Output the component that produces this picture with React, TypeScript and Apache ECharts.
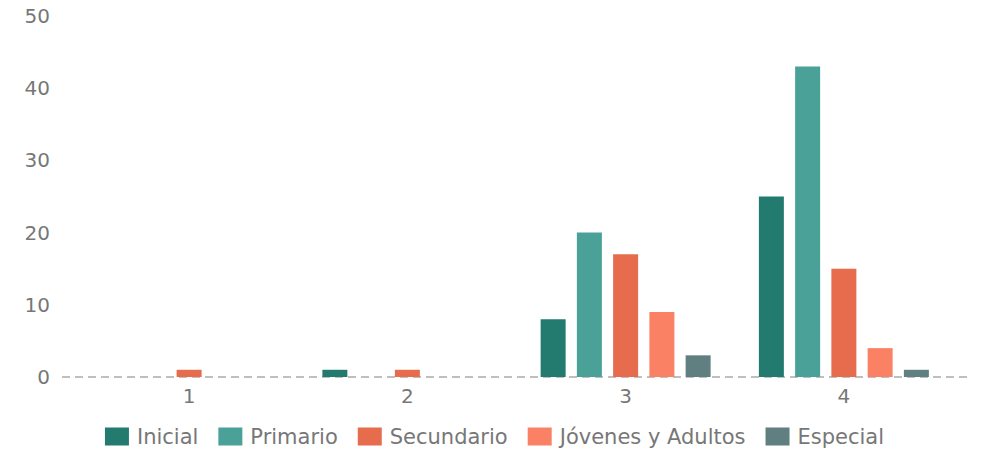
import React, { useEffect, useRef } from "react";
import * as echarts from "echarts";

const categories = ["1", "2", "3", "4"];
const seriesNames = ["Inicial", "Primario", "Secundario", "Jóvenes y Adultos", "Especial"];
const inicial = [0, 1, 8, 25];
const primario = [0, 0, 20, 43];
const secundario = [1, 1, 17, 15];
const jovenes = [0, 0, 9, 4];
const especial = [0, 0, 3, 1];
const colors = ["#237B70", "#4AA197", "#E76C4D", "#FA8163", "#5F7F81"];

export default function App() {
  const ref = useRef<HTMLDivElement>(null);
  useEffect(() => {
    if (!ref.current) return;
    const chart = echarts.init(ref.current, undefined, { renderer: "svg" });
    const data = [inicial, primario, secundario, jovenes, especial];
    chart.setOption({
      animation: false,
      textStyle: { fontFamily: "'DejaVu Sans', sans-serif" },
      color: colors,
      grid: { left: 80, right: 36, top: 16, bottom: 74, containLabel: false },
      legend: {
        top: 426,
        left: "center",
        padding: 0,
        itemWidth: 24,
        itemHeight: 18,
        itemGap: 20,
        icon: "rect",
        textStyle: { fontSize: 21, color: "#777", fontFamily: "'DejaVu Sans', sans-serif", padding: [0, 0, 0, 3] },
        data: seriesNames,
      },
      xAxis: {
        type: "category",
        data: categories,
        axisLine: { show: false },
        axisTick: { show: false },
        axisLabel: { fontSize: 20, color: "#777", margin: 9 },
      },
      yAxis: {
        type: "value",
        min: 0,
        max: 50,
        interval: 10,
        splitLine: { show: false },
        axisLine: { show: false },
        axisTick: { show: false },
        axisLabel: { fontSize: 20, color: "#777", margin: 30 },
      },
      series: seriesNames.map((name, i) => ({
        name,
        type: "bar",
        data: data[i],
        barWidth: 25,
        barGap: "45%",
        itemStyle: { color: colors[i] },
      })),
    });
    const y0 = chart.convertToPixel({ yAxisIndex: 0 }, 0) as number;
    chart.setOption({
      graphic: [
        {
          type: "line",
          z: 0,
          shape: { x1: 62, y1: y0, x2: 970, y2: y0 },
          style: { stroke: "#aaa", lineWidth: 1.5, lineDash: [8, 5] },
        },
      ],
    });
    return () => chart.dispose();
  }, []);
  return <div ref={ref} style={{ width: 989, height: 451, marginLeft: -8, marginTop: -8 }} />;
}
